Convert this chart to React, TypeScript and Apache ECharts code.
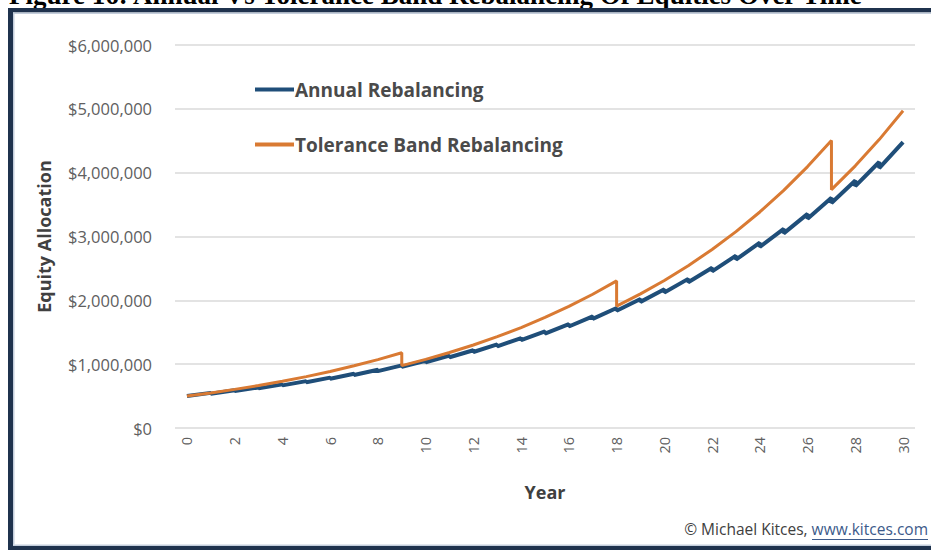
import React, { useEffect, useRef } from "react";
import * as echarts from "echarts";

const chartTitle = "Figure 16: Annual Vs Tolerance Band Rebalancing Of Equities Over Time";
const seriesNames = ["Annual Rebalancing", "Tolerance Band Rebalancing"];
const xTickLabels = [0, 2, 4, 6, 8, 10, 12, 14, 16, 18, 20, 22, 24, 26, 28, 30];
const years = [0, 1, 2, 3, 4, 5, 6, 7, 8, 9, 10, 11, 12, 13, 14, 15, 16, 17, 18, 19, 20, 21, 22, 23, 24, 25, 26, 27, 28, 29, 30];

// Annual rebalancing: value just before each year's rebalance (years 1..30)
const annualBeforeRebalance = [
  550000, 591250, 635594, 683263, 734509, 789597, 848816, 912478, 980913, 1054482,
  1133568, 1218586, 1309979, 1408228, 1513844, 1627383, 1749437, 1880645, 2021692, 2173320,
  2336319, 2511542, 2699908, 2902401, 3120081, 3354087, 3605643, 3876066, 4166771, 4479208,
];
// Annual rebalancing: value just after each year's rebalance (years 0..29)
const annualAfterRebalance = [
  500000, 537500, 577813, 621148, 667735, 717815, 771651, 829525, 891739, 958620,
  1030516, 1107805, 1190890, 1280207, 1376222, 1479439, 1590397, 1709677, 1837902, 1975745,
  2123926, 2283220, 2454462, 2638546, 2836437, 3049170, 3277858, 3523697, 3787974, 4072072,
];

// Tolerance band: value at each year (before any rebalance)
const toleranceValues = [
  500000, 550000, 605000, 665500, 732050, 805255, 885781, 974359, 1071794, 1178974,
  1075051, 1182556, 1300812, 1430893, 1573983, 1731381, 1904519, 2094971, 2304468,
  2101337, 2311470, 2542617, 2796879, 3076567, 3384224, 3722646, 4094911, 4504402,
  4107351, 4518086, 4969895,
];
const toleranceRebalanceYears = [9, 18, 27];
const toleranceAfterRebalance = [977319, 1910306, 3733956];

const BLUE = "#1f4e79";
const ORANGE = "#d97a33";
const NAVY = "#1f324d";

export default function App() {
  const ref = useRef<HTMLDivElement>(null);

  useEffect(() => {
    if (!ref.current) return;
    const chart = echarts.init(ref.current, null, { renderer: "svg" });

    const annualData: number[][] = [];
    years.forEach((t) => {
      if (t > 0) annualData.push([t, annualBeforeRebalance[t - 1]]);
      if (t < annualAfterRebalance.length) annualData.push([t, annualAfterRebalance[t]]);
    });

    const toleranceData: number[][] = [];
    years.forEach((t) => {
      toleranceData.push([t, toleranceValues[t]]);
      const k = toleranceRebalanceYears.indexOf(t);
      if (k >= 0) toleranceData.push([t, toleranceAfterRebalance[k]]);
    });

    const fmt = (v: number) => "$" + Math.round(v).toString().replace(/\B(?=(\d{3})+(?!\d))/g, ",");

    chart.setOption({
      animation: false,
      backgroundColor: "#ffffff",
      textStyle: { fontFamily: "Open Sans" },
      grid: { left: 175, right: 16, top: 45, bottom: 122 },
      legend: {
        orient: "vertical",
        left: 250,
        top: 75,
        itemGap: 36,
        icon: "rect",
        itemWidth: 39,
        itemHeight: 4,
        data: seriesNames,
        textStyle: { fontFamily: "Open Sans", fontWeight: "bold", fontSize: 19, color: "#4a4a4a", padding: [0, 0, 0, -4] },
      },
      xAxis: {
        type: "value",
        min: -0.5,
        max: 30.5,
        name: "Year",
        nameLocation: "middle",
        nameGap: 55,
        nameTextStyle: { fontFamily: "Open Sans", fontWeight: "bold", fontSize: 18, color: "#404040" },
        axisLine: { show: false },
        axisTick: { show: false },
        splitLine: { show: false },
        axisLabel: {
          customValues: xTickLabels,
          rotate: 90,
          margin: 9,
          fontSize: 14.5,
          color: "#606060",
          fontFamily: "Open Sans",
        },
      },
      yAxis: {
        type: "value",
        min: 0,
        max: 6000000,
        interval: 1000000,
        name: "Equity Allocation",
        nameLocation: "middle",
        nameGap: 122,
        nameTextStyle: { fontFamily: "Open Sans", fontWeight: "bold", fontSize: 18, color: "#404040" },
        axisLine: { show: false },
        axisTick: { show: false },
        splitLine: { lineStyle: { color: "#e3e3e3", width: 2 } },
        axisLabel: { formatter: fmt, margin: 23, fontSize: 16.5, color: "#606060", fontFamily: "Open Sans" },
      },
      series: [
        {
          name: seriesNames[0],
          type: "line",
          data: annualData,
          showSymbol: false,
          symbol: "none",
          lineStyle: { color: BLUE, width: 4 },
          itemStyle: { color: BLUE },
          z: 2,
        },
        {
          name: seriesNames[1],
          type: "line",
          data: toleranceData,
          showSymbol: false,
          symbol: "none",
          lineStyle: { color: ORANGE, width: 3 },
          itemStyle: { color: ORANGE },
          z: 3,
        },
      ],
      graphic: [
        {
          type: "text",
          left: 9,
          top: -19,
          style: {
            text: chartTitle,
            font: "bold 27px 'Liberation Serif', 'Times New Roman', serif",
            fill: "#000000",
          },
          z: 10,
        },
        { type: "rect", shape: { x: 8, y: 8, width: 923, height: 4.5 }, style: { fill: NAVY }, z: 10 },
        { type: "rect", shape: { x: 13, y: 12.5, width: 918, height: 1.5 }, style: { fill: "#c3cddb" }, z: 10 },
        { type: "rect", shape: { x: 8, y: 8, width: 5, height: 542 }, style: { fill: NAVY }, z: 10 },
        { type: "rect", shape: { x: 13, y: 12.5, width: 1.5, height: 532 }, style: { fill: "#c3cddb" }, z: 10 },
        { type: "rect", shape: { x: 8, y: 546, width: 923, height: 4 }, style: { fill: NAVY }, z: 10 },
        { type: "rect", shape: { x: 13, y: 544.5, width: 918, height: 1.5 }, style: { fill: "#c3cddb" }, z: 10 },
        {
          type: "text",
          right: 3,
          top: 521,
          style: {
            text: "{a|© Michael Kitces, }{b|www.kitces.com}",
            rich: {
              a: { fontFamily: "Open Sans", fontSize: 15.5, fill: "#404040" },
              b: { fontFamily: "Open Sans", fontSize: 15.5, fill: "#3c5a8a" },
            },
          },
          z: 10,
        },
        { type: "line", shape: { x1: 812, y1: 539.5, x2: 928, y2: 539.5 }, style: { stroke: "#3c5a8a", lineWidth: 1 }, z: 10 },
      ],
    });

    return () => chart.dispose();
  }, []);

  return (
    <div
      ref={ref}
      style={{ position: "absolute", left: 0, top: 0, width: 931, height: 550, background: "#fff" }}
    />
  );
}
